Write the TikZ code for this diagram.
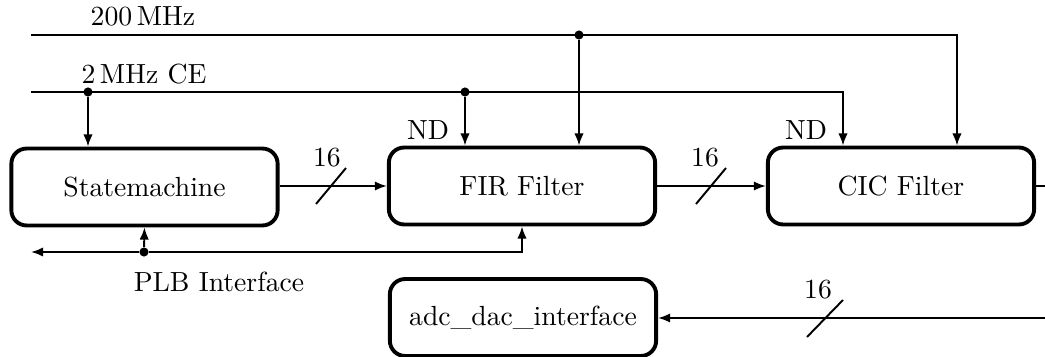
\documentclass[tikz,border=0pt]{standalone}
\usetikzlibrary{arrows.meta,calc}

\tikzset{
  block/.style={draw, line width=1.4pt, rounded corners=5.5pt,
    minimum width=96.2pt, minimum height=27.8pt, inner sep=0pt},
  wire/.style={line width=0.7pt},
  sig/.style={wire, -{Latex[length=4.4pt,width=3.4pt]}},
  junction/.style={circle, fill, inner sep=0pt, minimum size=3.3pt},
  buswidth/.style={line width=0.7pt},
}

\begin{document}
\begin{tikzpicture}[x=0.3613pt, y=-0.3613pt]
  \useasboundingbox (0,0) rectangle (1045,357);

  % processing blocks
  \node[block] (sm)  at (144.5,187) {Statemachine};
  \node[block] (fir) at (522,186)   {FIR Filter};
  \node[block] (cic) at (901,186)   {CIC Filter};
  \node[block] (adc) at (523,317.5) {adc\_dac\_interface};

  % clock and clock-enable rails
  \coordinate (clkin) at (31,35);
  \coordinate (cein)  at (31,92);
  \node[junction] (clkfir) at (579,35) {};
  \node[junction] (cesm)   at (88,92)  {};
  \node[junction] (cefir)  at (465,92) {};

  \node[anchor=base] (lclk) at (143,26) {200\,MHz};
  \node[anchor=base] (lce)  at (144,84) {2\,MHz CE};

  \draw[sig] (clkin) -| ($(cic.north)+(56,0)$);
  \draw[sig] (clkfir) -- (clkfir |- fir.north);
  \draw[sig] (cein) -| ($(cic.north)+(-58,0)$);
  \draw[sig] (cesm) -- (cesm |- sm.north);
  \draw[sig] (cefir) -- (cefir |- fir.north);

  \node[anchor=base] (ndfir) at (428,140) {ND};
  \node[anchor=base] (ndcic) at (806,140) {ND};

  % data path
  \draw[sig] (sm.east |- 0,186) -- (fir.west);
  \draw[sig] (fir.east) -- (cic.west);
  \coordinate (cicout) at (1045,186);
  \draw[wire] (cic.east) -- (cicout);
  \coordinate (dacin) at (1045,318);
  \draw[sig] (dacin) -- (adc.east |- dacin);

  % bus width markers
  \draw[buswidth] (316,204) -- (346,168);
  \node[anchor=base] (w1) at (327,167) {16};
  \draw[buswidth] (696,204) -- (726,168);
  \node[anchor=base] (w2) at (705,167) {16};
  \draw[buswidth] (807,337) -- (843,300);
  \node[anchor=base] (w3) at (818,299) {16};

  % PLB interface
  \node[junction] (plb) at (144,252) {};
  \coordinate (plbout) at (31,252);
  \draw[sig] (plb) -- (plbout);
  \draw[sig] (plb) -- (sm.south);
  \draw[sig] (plb) -| (fir.south);
  \node[anchor=base] (lplb) at (219,292) {PLB Interface};
\end{tikzpicture}
\end{document}
